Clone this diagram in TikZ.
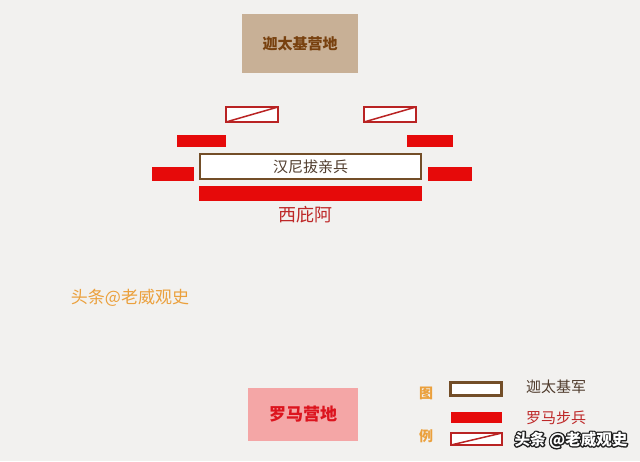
\documentclass[tikz,border=0pt]{standalone}
\usepackage{fontspec}
\newfontfamily\cjk{Noto Sans CJK SC}
\definecolor{bg}{RGB}{242,241,239}
\definecolor{tan}{RGB}{200,176,150}
\definecolor{tantext}{RGB}{120,65,15}
\definecolor{brownline}{RGB}{115,78,40}
\definecolor{romred}{RGB}{230,10,10}
\definecolor{hatchred}{RGB}{185,35,35}
\definecolor{pinkcamp}{RGB}{244,166,166}
\definecolor{campred}{RGB}{220,20,30}
\definecolor{scipio}{RGB}{190,40,40}
\definecolor{orangetxt}{RGB}{235,160,60}
\definecolor{graytxt}{RGB}{80,60,45}
\tikzset{
  redbar/.style={fill=romred, draw=none},
  hatchbox/.style={draw=hatchred, line width=2.2pt, fill=white},
  brownbox/.style={draw=brownline, line width=2.5pt, fill=white},
  lbl/.style={font=\cjk\fontsize{15}{15}\selectfont, inner sep=0pt},
}
\newcommand{\outlinedtext}[1]{\rlap{\special{pdf:literal direct 0.12 0.12 0.12 RG 1 Tr 2.6 w 1 j}#1\special{pdf:literal direct 0 Tr}}#1}
\begin{document}
\begin{tikzpicture}[x=1pt,y=-1pt]
\fill[bg] (0,0) rectangle (640,461);
\useasboundingbox (0,0) rectangle (640,461);
% Carthaginian camp
\node[fill=tan, minimum width=116pt, minimum height=59pt, inner sep=0pt] (ccamp) at (300,43.5) {};
\node[lbl, font=\cjk\bfseries\fontsize{15}{15}\selectfont, text=tantext] (ccampt) at (300,44) {迦太基营地};
% hatched boxes
\draw[hatchbox] (226,107) rectangle (278,122);
\draw[hatchred, line width=1.5pt] (226,122) -- (278,107);
\draw[hatchbox] (364,107) rectangle (416,122);
\draw[hatchred, line width=1.5pt] (364,122) -- (416,107);
% upper red blocks
\fill[redbar] (177,135) rectangle (226,147);
\fill[redbar] (407,135) rectangle (453,147);
% lower red blocks
\fill[redbar] (152,167) rectangle (194,181);
\fill[redbar] (428,167) rectangle (472,181);
% Hannibal box
\node[brownbox, minimum width=221pt, minimum height=25pt, inner sep=0pt] (han) at (310.5,166.5) {};
\node[lbl, text=graytxt] at (han) {汉尼拔亲兵};
% Scipio bar
\fill[redbar] (199,186) rectangle (422,201);
\node[lbl, font=\cjk\fontsize{18}{18}\selectfont, text=scipio] (sci) at (305,215) {西庇阿};
% watermark
\node[lbl, font=\cjk\fontsize{17}{17}\selectfont, text=orangetxt] (wm) at (130,298) {头条@老威观史};
% Roman camp
\node[fill=pinkcamp, minimum width=110pt, minimum height=53pt, inner sep=0pt] (rcamp) at (303,414.5) {};
\node[lbl, font=\cjk\bfseries\fontsize{17}{17}\selectfont, text=campred] at (rcamp) {罗马营地};
% Legend
\node[lbl, font=\cjk\bfseries\fontsize{14}{14}\selectfont, text=orangetxt] (tu) at (426,393) {图};
\node[lbl, font=\cjk\bfseries\fontsize{14}{14}\selectfont, text=orangetxt] (li) at (426,436) {例};
\node[brownbox, minimum width=51pt, minimum height=13pt, inner sep=0pt] (lg1) at (476,389) {};
\fill[redbar] (451,412) rectangle (502,423);
\draw[hatchbox] (451,433) rectangle (502,445);
\draw[hatchred, line width=1.5pt] (451,445) -- (502,433);
\node[lbl, text=graytxt] (l1) at (556,387) {迦太基军};
\node[lbl, text=scipio] (l2) at (556,418) {罗马步兵};
% corner watermark
\node[lbl, font=\cjk\bfseries\fontsize{15.5}{15.5}\selectfont, text=white] (cw) at (571,440) {\outlinedtext{头条 @老威观史}};
\end{tikzpicture}
\end{document}
